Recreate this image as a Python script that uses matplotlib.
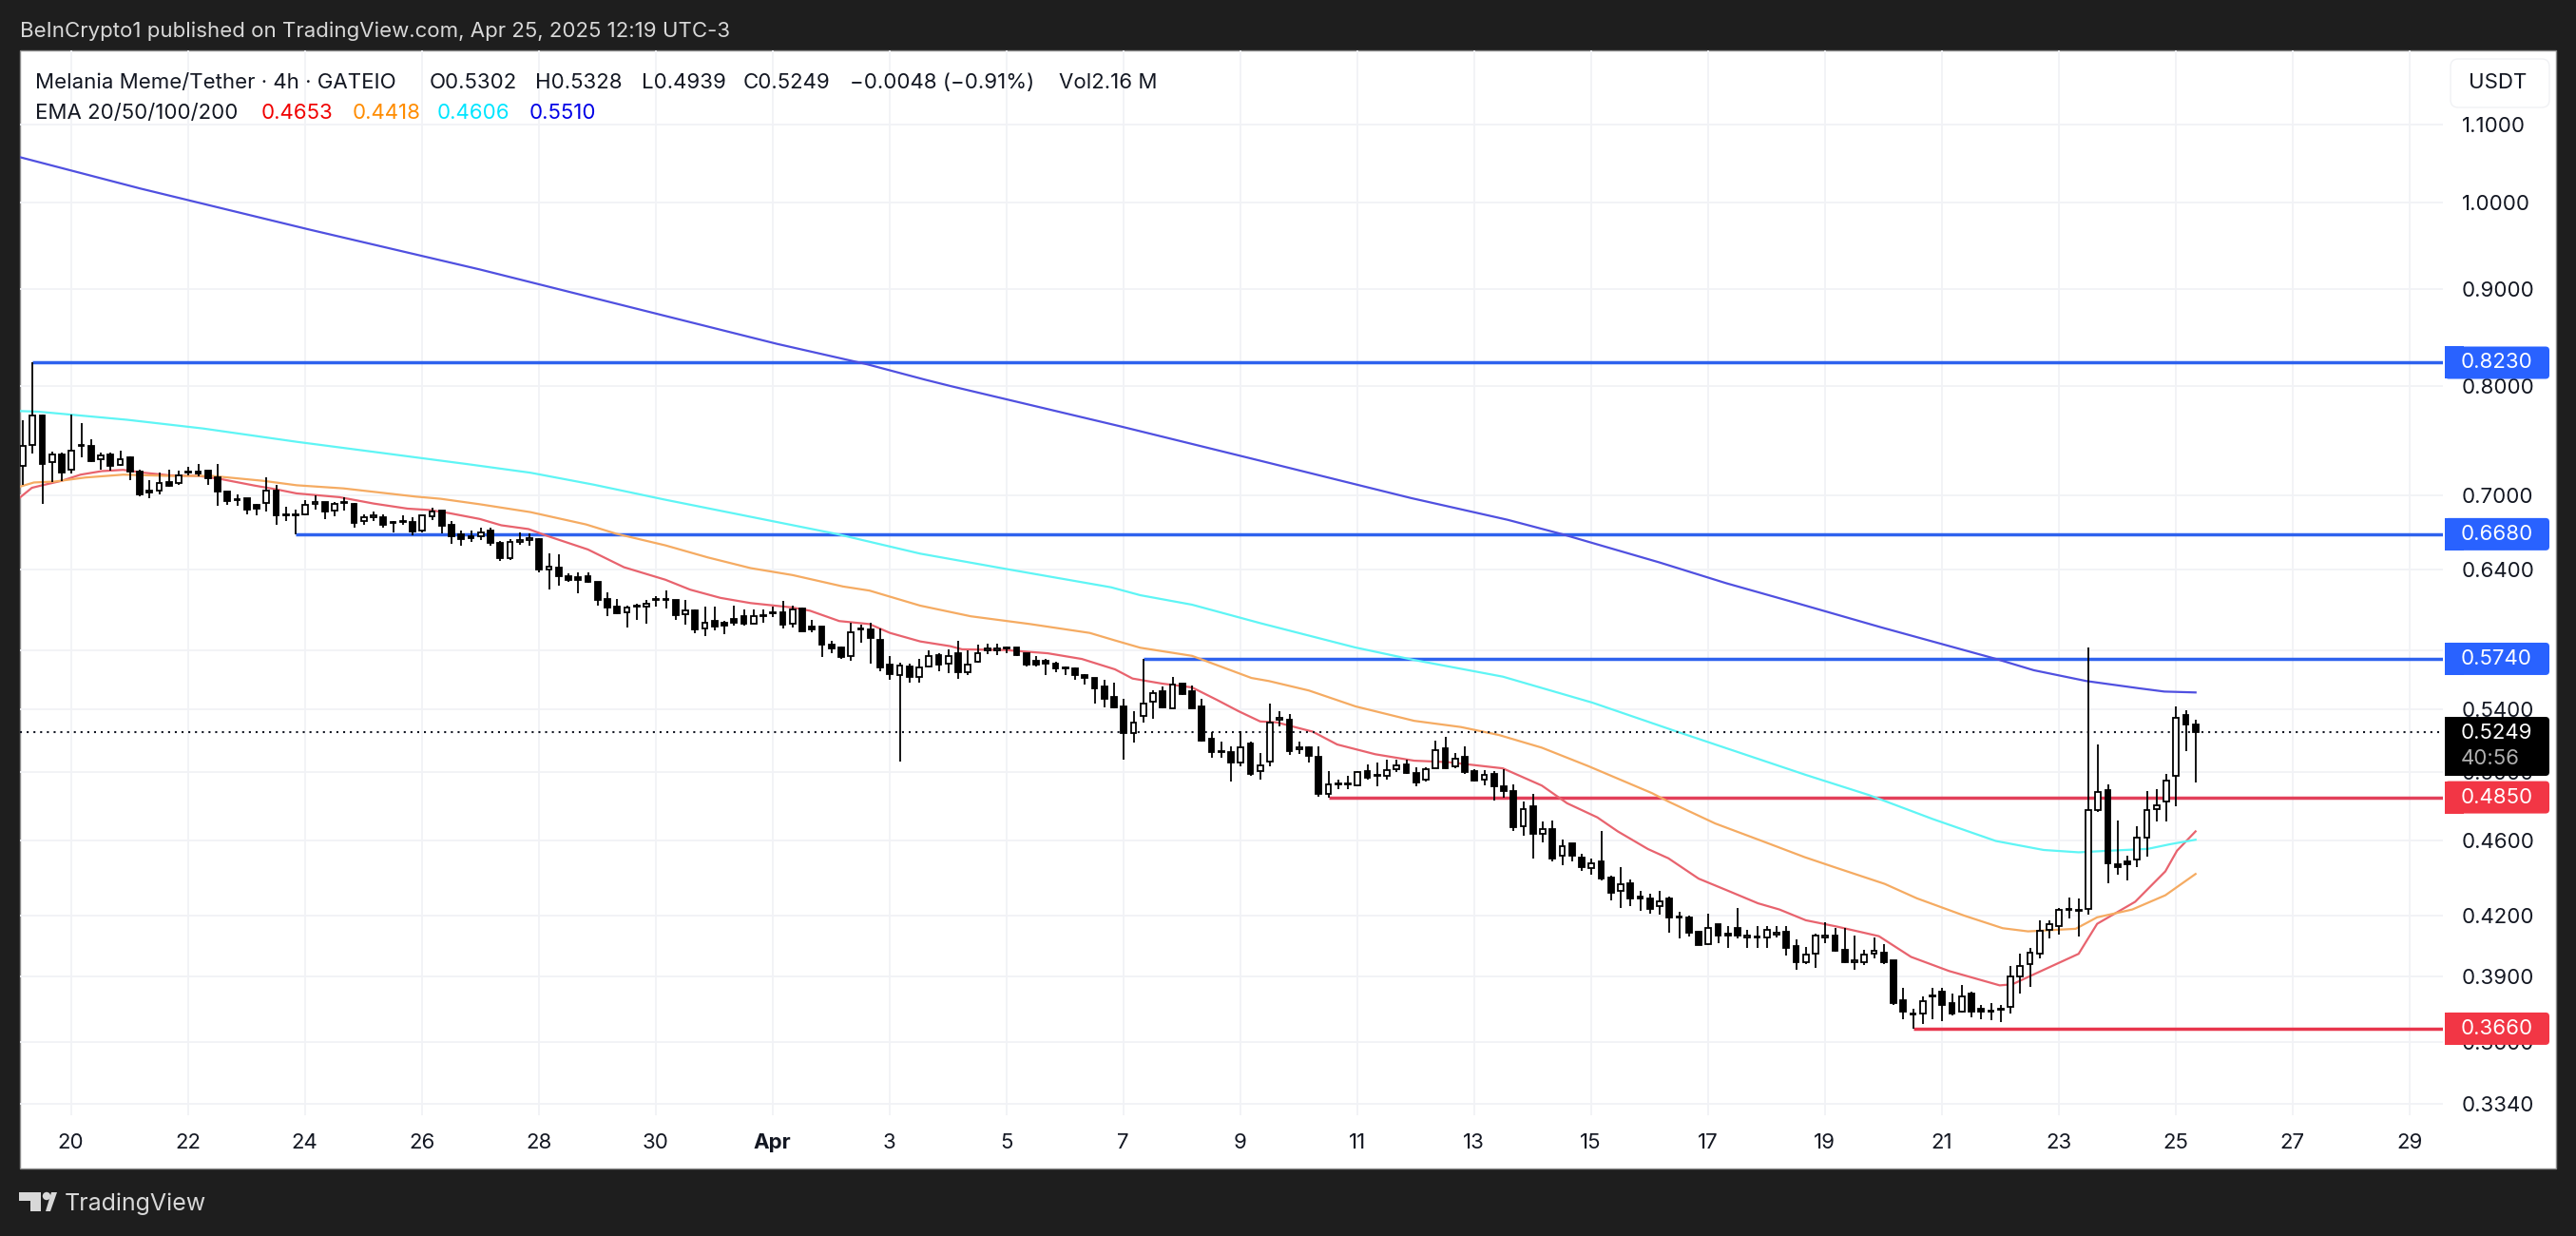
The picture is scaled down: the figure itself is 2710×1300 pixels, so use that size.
import numpy as np
import matplotlib
matplotlib.use("Agg")
import matplotlib.pyplot as plt
from matplotlib.patches import FancyBboxPatch, Rectangle, Polygon, Circle
from matplotlib.transforms import IdentityTransform
from matplotlib.ticker import NullLocator

plt.rcParams['font.family'] = ['Inter', 'DejaVu Sans']

# 4h candles, Melania Meme/Tether
opens = [
    .7261, .7449, .7718, .7295, .7361, .7227, .7435, .7438, .7318, .7361,
    .7270, .7338, .7210, .7047, .7041, .7117, .7109, .7201, .7213, .7216,
    .7160, .7036, .6961, .6980, .6923, .6942, .7047, .6832, .6834, .6842,
    .6934, .6947, .6875, .6939, .6928, .6786, .6821, .6821, .6773, .6781,
    .6778, .6709, .6826, .6875, .6755, .6679, .6666, .6666, .6709, .6613,
    .6489, .6621, .6636, .6641, .6399, .6412, .6351, .6339, .6344, .6301,
    .6172, .6117, .6076, .6117, .6114, .6165, .6165, .6165, .6057, .6091,
    .5954, .6015, .5997, .6024, .6045, .5994, .6043, .6065, .6077, .5994,
    .6105, .5969, .5969, .5842, .5820, .5761, .5947, .5949, .5874, .5698,
    .5629, .5684, .5616, .5687, .5766, .5707, .5779, .5650, .5720, .5802,
    .5802, .5820, .5818, .5777, .5727, .5727, .5707, .5682, .5676, .5631,
    .5606, .5550, .5480, .5416, .5247, .5354, .5448, .5518, .5406, .5567,
    .5518, .5416, .5208, .5123, .5123, .5060, .5180, .5009, .5063, .5330,
    .5330, .5144, .5152, .5095, .4872, .4925, .4927, .4924, .5007, .4976,
    .4980, .5018, .5046, .4995, .4958, .5026, .5148, .5035, .5093, .5009,
    .4958, .4990, .4916, .4887, .4680, .4797, .4640, .4667, .4518, .4587,
    .4506, .4452, .4486, .4401, .4329, .4370, .4297, .4287, .4247, .4288,
    .4190, .4191, .4119, .4056, .4156, .4107, .4137, .4091, .4090, .4090,
    .4106, .4119, .4047, .3970, .4009, .4091, .4101, .4027, .3968, .3970,
    .4009, .4016, .3977, .3788, .3724, .3729, .3806, .3828, .3775, .3736,
    .3820, .3748, .3735, .3745, .3759, .3900, .3961, .4009, .4126, .4149,
    .4228, .4223, .4234, .4773, .4893, .4472, .4487, .4496, .4620, .4780,
    .4825, .4977, .5358, .5302,
]
highs = [
    .7678, .8230, .7724, .7389, .7381, .7724, .7648, .7498, .7375, .7375,
    .7395, .7347, .7227, .7136, .7204, .7227, .7216, .7247, .7275, .7218,
    .7275, .7039, .7015, .6982, .6934, .7157, .7090, .6907, .6880, .6961,
    .7001, .6950, .6947, .6988, .6942, .6840, .6866, .6840, .6786, .6832,
    .6821, .6834, .6899, .6877, .6791, .6709, .6707, .6735, .6735, .6626,
    .6641, .6697, .6684, .6646, .6529, .6519, .6373, .6375, .6375, .6304,
    .6225, .6172, .6124, .6136, .6165, .6196, .6241, .6170, .6170, .6093,
    .6117, .6117, .6010, .6124, .6093, .6093, .6098, .6115, .6160, .6122,
    .6110, .6022, .5972, .5870, .5829, .5999, .5981, .5999, .5954, .5757,
    .5716, .5704, .5739, .5800, .5777, .5807, .5868, .5800, .5840, .5845,
    .5847, .5829, .5820, .5779, .5757, .5739, .5720, .5687, .5680, .5635,
    .5608, .5597, .5576, .5469, .5385, .5740, .5523, .5548, .5612, .5572,
    .5555, .5469, .5249, .5192, .5160, .5257, .5192, .5118, .5437, .5385,
    .5366, .5192, .5162, .5160, .5005, .4954, .4980, .5009, .5048, .5058,
    .5075, .5075, .5075, .5033, .5033, .5198, .5220, .5118, .5160, .5018,
    .5014, .5009, .5018, .4927, .4825, .4870, .4710, .4715, .4608, .4588,
    .4527, .4504, .4653, .4408, .4455, .4389, .4328, .4311, .4329, .4297,
    .4218, .4199, .4125, .4211, .4158, .4147, .4238, .4128, .4145, .4147,
    .4147, .4147, .4080, .4043, .4107, .4168, .4139, .4139, .4101, .4027,
    .4091, .4056, .3979, .3846, .3748, .3806, .3846, .3847, .3821, .3861,
    .3828, .3769, .3775, .3767, .3952, .4009, .4037, .4176, .4176, .4239,
    .4292, .4289, .5820, .5172, .4929, .4715, .4518, .4680, .4887, .4900,
    .4990, .5417, .5391, .5328,
]
lows = [
    .7090, .7369, .6929, .7114, .7130, .7190, .7332, .7290, .7227, .7218,
    .7261, .7136, .6993, .6982, .7009, .7074, .7090, .7176, .7171, .7095,
    .6912, .6920, .6918, .6840, .6832, .6864, .6753, .6791, .6680, .6832,
    .6885, .6807, .6826, .6872, .6735, .6755, .6786, .6730, .6692, .6760,
    .6671, .6697, .6799, .6684, .6600, .6585, .6621, .6631, .6585, .6463,
    .6473, .6595, .6585, .6380, .6244, .6277, .6304, .6220, .6296, .6122,
    .6043, .6062, .5960, .6022, .5988, .6117, .6105, .6022, .5981, .5920,
    .5901, .5942, .5913, .5976, .5976, .5988, .6001, .6038, .5954, .5965,
    .5933, .5931, .5750, .5779, .5743, .5727, .5856, .5704, .5657, .5597,
    .5067, .5576, .5574, .5682, .5657, .5640, .5599, .5629, .5716, .5770,
    .5766, .5777, .5761, .5689, .5687, .5629, .5650, .5629, .5593, .5561,
    .5437, .5408, .5404, .5079, .5182, .5309, .5334, .5404, .5402, .5491,
    .5400, .5192, .5091, .5091, .4942, .5037, .4980, .4954, .5037, .5289,
    .5108, .5112, .5062, .4852, .4850, .4900, .4900, .4916, .4958, .4914,
    .4954, .4999, .4992, .4914, .4942, .5022, .5020, .5026, .4992, .4946,
    .4920, .4829, .4847, .4658, .4631, .4501, .4590, .4487, .4467, .4487,
    .4433, .4413, .4382, .4280, .4241, .4250, .4222, .4212, .4203, .4112,
    .4084, .4093, .4050, .4053, .4059, .4040, .4085, .4040, .4040, .4040,
    .4091, .4000, .3930, .3961, .3939, .4059, .4021, .3964, .3930, .3955,
    .3988, .3958, .3769, .3701, .3660, .3681, .3701, .3692, .3721, .3732,
    .3709, .3701, .3698, .3691, .3729, .3820, .3849, .3988, .4084, .4104,
    .4183, .4094, .4203, .4766, .4368, .4413, .4385, .4453, .4510, .4708,
    .4708, .4795, .5132, .4939,
]
closes = [
    .7438, .7718, .7275, .7358, .7204, .7398, .7446, .7304, .7355, .7261,
    .7318, .7213, .7015, .7028, .7106, .7087, .7176, .7213, .7196, .7154,
    .7033, .6953, .6971, .6880, .6893, .7041, .6832, .6842, .6842, .6920,
    .6947, .6864, .6934, .6950, .6773, .6821, .6832, .6760, .6784, .6791,
    .6704, .6832, .6866, .6748, .6664, .6641, .6646, .6692, .6608, .6486,
    .6616, .6631, .6646, .6397, .6422, .6351, .6316, .6318, .6304, .6165,
    .6110, .6067, .6110, .6124, .6141, .6172, .6175, .6053, .6086, .5947,
    .5997, .5969, .5974, .5999, .5988, .6043, .6053, .6074, .5981, .6093,
    .5933, .5947, .5838, .5815, .5754, .5926, .5956, .5885, .5682, .5633,
    .5691, .5612, .5680, .5761, .5698, .5757, .5646, .5700, .5782, .5811,
    .5811, .5813, .5766, .5702, .5700, .5709, .5676, .5676, .5629, .5606,
    .5535, .5465, .5412, .5243, .5313, .5433, .5506, .5412, .5565, .5501,
    .5404, .5196, .5123, .5131, .5058, .5156, .4988, .5043, .5313, .5342,
    .5133, .5152, .5101, .4869, .4925, .4933, .4935, .4999, .4965, .4984,
    .5012, .5043, .4995, .4939, .5018, .5136, .5022, .5083, .5003, .4950,
    .4986, .4916, .4885, .4676, .4783, .4638, .4664, .4504, .4569, .4516,
    .4455, .4474, .4396, .4316, .4365, .4287, .4287, .4236, .4275, .4188,
    .4196, .4115, .4053, .4135, .4099, .4098, .4098, .4099, .4096, .4126,
    .4112, .4037, .3970, .4007, .4099, .4101, .4024, .3967, .3977, .4007,
    .4024, .3967, .3774, .3736, .3729, .3784, .3812, .3767, .3726, .3806,
    .3738, .3735, .3741, .3751, .3899, .3949, .4016, .4125, .4155, .4231,
    .4234, .4231, .4773, .4882, .4475, .4453, .4470, .4617, .4778, .4804,
    .4948, .5344, .5302, .5249,
]

# EMA lines, sampled by candle number
ema20_n = [.66, 1.93, 3, 4.97, 6.93, 9.1, 11.3, 13.5, 16.1, 19.1, 21.3, 24.8, 27, 29.1, 33.5, 37, 40.5, 42.7, 44.8,
           47.9, 50.1, 52.9, 54.9, 59, 62.7, 66.95, 69.5, 72.6, 75.7, 80, 81.8, 84.8, 87.9, 90, 93.1, 96.2, 97.4,
           101.8, 106.2, 109.7, 113.1, 114.9, 117.9, 121, 123.6, 125.8, 128, 129.7, 133.4, 135.9, 139.8, 143.8,
           147.3, 152.9, 156.9, 159.5, 162.6, 164.7, 167.8, 169.9, 173, 176, 179.1, 181.3, 184, 187.2, 191.5,
           194.8, 198.7, 203.9, 205.2, 207.4, 212, 213.9, 217.8, 220.9, 222.1, 224]
ema20 = [.6982, .7068, .7090, .7128, .7182, .7213, .7224, .7198, .7176, .7171, .7144, .7087, .7055, .7020, .6988,
         .6934, .6891, .6880, .6853, .6805, .6753, .6722, .6664, .6557, .6417, .6320, .6244, .6182, .6143, .6110,
         .6086, .6010, .5988, .5924, .5863, .5829, .5807, .5802, .5779, .5739, .5667, .5604, .5570, .5544, .5459,
         .5385, .5319, .5313, .5253, .5172, .5111, .5071, .5062, .5024, .4920, .4815, .4733, .4653, .4554, .4503,
         .4393, .4329, .4263, .4231, .4176, .4144, .4096, .3994, .3926, .3858, .3863, .3910, .4009, .4158, .4271,
         .4432, .4545, .4653]

ema50_n = [.66, 2.14, 4.3, 7.4, 11.3, 16.1, 20.4, 25.7, 29.1, 33.9, 41.3, 43.9, 47.9, 53.1, 58.8, 61.9, 66.95, 71.3,
           75.7, 80, 85.2, 87.9, 93.1, 98.3, 104.4, 110.5, 113.1, 115.7, 121, 127.1, 128.9, 133, 137.8, 143.8,
           148.6, 152.5, 156.9, 161.7, 168.2, 169.9, 174.7, 179.5, 183.9, 187.2, 192.1, 195.4, 200.3, 204.2,
           206.8, 211.7, 213.9, 217.5, 220.9, 224]
ema50 = [.7077, .7114, .7122, .7157, .7182, .7171, .7171, .7128, .7090, .7063, .6993, .6974, .6928, .6862, .6760,
         .6684, .6590, .6494, .6410, .6356, .6268, .6237, .6124, .6045, .5988, .5924, .5870, .5818, .5761, .5608,
         .5587, .5523, .5417, .5323, .5283, .5232, .5152, .5037, .4875, .4825, .4698, .4599, .4509, .4450, .4365,
         .4289, .4199, .4136, .4120, .4133, .4191, .4231, .4305, .4418]

ema100_n = [.66, 2.6, 11.7, 19.5, 29.1, 37.8, 46.6, 53.1, 59.6, 66.95, 84.4, 93.1, 101.8, 112.7, 115.7, 121, 128,
            137.7, 143.8, 152.9, 162.1, 170.8, 184, 190.5, 197, 203.5, 208.4, 212, 215.2, 219.1, 221.4, 224]
ema100 = [.7760, .7754, .7678, .7597, .7475, .7375, .7275, .7199, .7095, .6966, .6684, .6524, .6405, .6262, .6202,
          .6131, .5995, .5821, .5732, .5617, .5442, .5253, .4984, .4863, .4724, .4599, .4549, .4536, .4545, .4555,
          .4581, .4606]

ema200_n = [.6, 13.06, 30.5, 47.9, 62.8, 78.4, 87.7, 93.6, 96.2, 113.6, 127.9, 143.5, 153.4, 159, 169, 175.8, 183.3,
            191.8, 203.5, 207.4, 212.8, 218.2, 220.8, 224]
ema200 = [1.0572, 1.0173, .9675, .9219, .8820, .8421, .8213, .8062, .8000, .7618, .7307, .6980, .6798, .6680, .6454,
          .6294, .6138, .5963, .5740, .5661, .5587, .5538, .5516, .5510]

# horizontal levels: price, candle where it starts
level_prices = [.8230, .6680, .5740, .4850, .3660]
level_starts = [2, 29, 116, 135, 195]
level_labels = ['0.8230', '0.6680', '0.5740', '0.4850', '0.3660']
level_colors = ['#2e62ee', '#2e62ee', '#2e62ee', '#e2405a', '#e8354c']
tag_colors = ['#2962ff', '#2962ff', '#2962ff', '#f23645', '#f23645']

price_ticks = [1.1, 1.0, .9, .8, .7, .64, .58, .54, .5, .46, .42, .39, .36, .334]
price_tick_labels = ['1.1000', '1.0000', '0.9000', '0.8000', '0.7000', '0.6400', '0.5800', '0.5400', '0.5000',
                     '0.4600', '0.4200', '0.3900', '0.3600', '0.3340']
day_offsets = [0, 2, 4, 6, 8, 10, 12, 14, 16, 18, 20, 22, 24, 26, 28, 30, 32, 34, 36, 38, 40]
day_labels = ['20', '22', '24', '26', '28', '30', 'Apr', '3', '5', '7', '9', '11', '13', '15', '17', '19', '21', '23',
              '25', '27', '29']

last_price = .5249
W, H = 2710, 1300
DARK = '#1e1e1e'
GRID = '#f1f2f6'


def fx(px):
    return px / W


def fy(py):
    return 1 - py / H


def main():
    fig = plt.figure(figsize=(W / 100, H / 100), dpi=100, facecolor=DARK)

    # white panel behind everything
    fig.add_artist(Rectangle((fx(21), fy(1229)), fx(2689 - 21), (1229 - 53) / H, transform=fig.transFigure,
                             facecolor='white', edgecolor='#8c8c8c', linewidth=1, zorder=-1))

    ax = fig.add_axes([fx(21), fy(1173), (2570 - 21) / W, (1173 - 53) / H], facecolor='none')
    ax.set_yscale('log')
    ax.set_ylim(.3294, 1.2035)
    ax.set_xlim(.707, 249.39)
    for s in ax.spines.values():
        s.set_visible(False)

    ax.yaxis.tick_right()
    ax.set_yticks(price_ticks)
    ax.set_yticklabels(price_tick_labels)
    ax.yaxis.set_minor_locator(NullLocator())
    ax.tick_params(axis='y', length=0, pad=14, labelsize=16, labelcolor='#131722')
    day_pos = [5.94 + 6 * d / 2 * 2 for d in day_offsets]
    ax.set_xticks(day_pos)
    ax.set_xticklabels(day_labels)
    ax.tick_params(axis='x', length=0, pad=14, labelsize=16, labelcolor='#131722')
    for lab in ax.get_xticklabels():
        if lab.get_text() == 'Apr':
            lab.set_fontweight('bold')
    ax.grid(True, color=GRID, linewidth=1.3, zorder=0)
    ax.set_axisbelow(True)

    # levels, EMAs under the candles
    for p, st, c in zip(level_prices, level_starts, level_colors):
        ax.plot([st, 249.39], [p, p], color=c, linewidth=2.5, solid_capstyle='butt', zorder=2)
    ax.plot(ema20_n, ema20, color='#e8636e', linewidth=1.6, zorder=2.2)
    ax.plot(ema50_n, ema50, color='#f5ab62', linewidth=1.6, zorder=2.2)
    ax.plot(ema100_n, ema100, color='#5ff5f5', linewidth=1.6, zorder=2.2)
    ax.plot(ema200_n, ema200, color='#5050e0', linewidth=1.6, zorder=2.2)
    ax.axhline(last_price, color='#131722', linewidth=1.5, linestyle=(0, (1, 2.4)), zorder=2.4)

    # candles
    o = np.array(opens)
    h = np.array(highs)
    l = np.array(lows)
    c = np.array(closes)
    n = np.arange(1, len(o) + 1)
    ax.vlines(n, l, h, color='black', linewidth=1.3, zorder=3)
    up = c >= o
    ax.bar(n[up], (c - o)[up], bottom=o[up], width=.55, color='white', edgecolor='black', linewidth=1.3, zorder=3.2)
    ax.bar(n[~up], (o - c)[~up], bottom=c[~up], width=.55, color='black', edgecolor='black', linewidth=1.3, zorder=3.2)

    # price tags on the right
    def price_tag(price, color, text):
        y = ax.transData.transform((1, price))[1]
        fig.add_artist(FancyBboxPatch((2574, y - 15), 106, 30, boxstyle='round,pad=2,rounding_size=4',
                                      transform=IdentityTransform(), facecolor=color, edgecolor='none', zorder=5))
        fig.add_artist(Rectangle((2572, y - 17), 20, 34, transform=IdentityTransform(), facecolor=color,
                                 edgecolor='none', zorder=5))
        fig.text(fx(2589), y / H, text, color='white', fontsize=16, va='center', ha='left', zorder=6)

    for p, lab, col in zip(level_prices, level_labels, tag_colors):
        price_tag(p, col, lab)

    # current price + countdown
    fig.add_artist(FancyBboxPatch((2574, H - 814), 106, 58, boxstyle='round,pad=2,rounding_size=4',
                                  transform=IdentityTransform(), facecolor='black', edgecolor='none', zorder=5))
    fig.add_artist(Rectangle((2572, H - 816), 20, 62, transform=IdentityTransform(), facecolor='black',
                             edgecolor='none', zorder=5))
    fig.text(fx(2589), fy(771), '0.5249', color='white', fontsize=16, va='center', ha='left', zorder=6)
    fig.text(fx(2589), fy(798), '40:56', color='#b0b0b0', fontsize=16, va='center', ha='left', zorder=6)

    # currency button
    fig.add_artist(FancyBboxPatch((2582, H - 109), 96, 43, boxstyle='round,pad=4,rounding_size=8',
                                  transform=IdentityTransform(), facecolor='white', edgecolor='#f0f1f4', linewidth=1,
                                  zorder=5))
    fig.text(fx(2628), fy(87), 'USDT', color='#131722', fontsize=16, va='center', ha='center', zorder=6)

    # header texts
    fig.text(fx(21), fy(33), 'BeInCrypto1 published on TradingView.com, Apr 25, 2025 12:19 UTC-3', color='#d8d8d8',
             fontsize=16, va='center')
    head_y = fy(87)
    ink = '#131722'
    fig.text(fx(37), head_y, 'Melania Meme/Tether · 4h · GATEIO', color=ink, fontsize=16, va='center')
    for px, s in [(452, 'O0.5302'), (563, 'H0.5328'), (675, 'L0.4939'), (782, 'C0.5249'),
                  (894, '−0.0048 (−0.91%)'), (1114, 'Vol2.16 M')]:
        fig.text(fx(px), head_y, s, color=ink, fontsize=16, va='center')
    ema_y = fy(119)
    fig.text(fx(37), ema_y, 'EMA 20/50/100/200', color=ink, fontsize=16, va='center')
    for px, s, col in [(275, '0.4653', '#f00000'), (371, '0.4418', '#ff8c00'), (460, '0.4606', '#00e5ff'),
                       (557, '0.5510', '#0000e6')]:
        fig.text(fx(px), ema_y, s, color=col, fontsize=16, va='center')

    # TradingView logo
    logo = '#d8d8d8'
    fig.add_artist(Polygon([(20, H - 1254), (43, H - 1254), (43, H - 1274), (32, H - 1274), (32, H - 1263),
                            (20, H - 1263)], transform=IdentityTransform(), facecolor=logo, edgecolor='none'))
    fig.add_artist(Circle((49, H - 1258), 4.2, transform=IdentityTransform(), facecolor=logo, edgecolor='none'))
    fig.add_artist(Polygon([(48, H - 1274), (54, H - 1254), (60, H - 1254), (53, H - 1274)],
                           transform=IdentityTransform(), facecolor=logo, edgecolor='none'))
    fig.text(fx(68), fy(1266), 'TradingView', color=logo, fontsize=18, va='center')

    fig.savefig('out.png', dpi=100, facecolor=DARK)


if __name__ == "__main__":
    main()
